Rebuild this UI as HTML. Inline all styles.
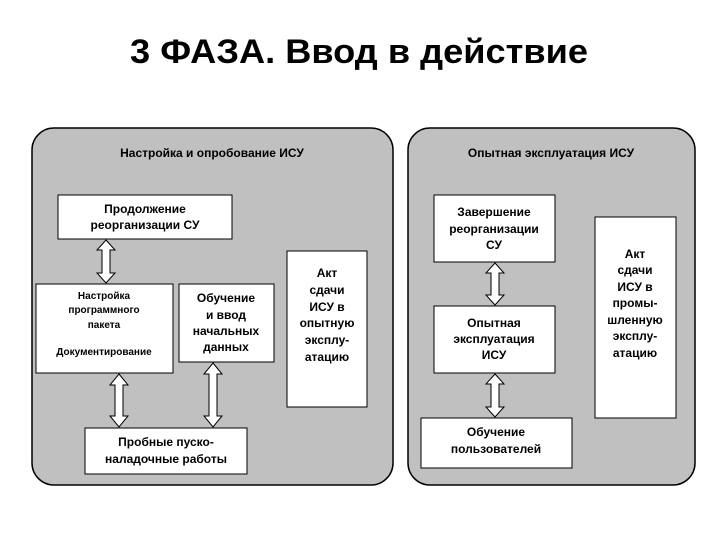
<!DOCTYPE html>
<html><head><meta charset="utf-8"><style>
body{margin:0;background:#fff;}
.t{font-family:"Liberation Sans",sans-serif;font-weight:bold;fill:#000;}
</style></head><body>
<svg width="720" height="540" xmlns="http://www.w3.org/2000/svg">
<text class="t" x="130" y="63" font-size="34" textLength="458" lengthAdjust="spacingAndGlyphs">3 ФАЗА. Ввод в действие</text>
<rect x="32" y="128" width="361" height="357" rx="22" fill="#c0c0c0" stroke="#000" stroke-width="1.5"/>
<rect x="408" y="128" width="287" height="357" rx="22" fill="#c0c0c0" stroke="#000" stroke-width="1.5"/>
<text class="t" x="212" y="157" font-size="12" text-anchor="middle">Настройка и опробование ИСУ</text>
<text class="t" x="551" y="157" font-size="12" text-anchor="middle">Опытная эксплуатация ИСУ</text>
<g fill="#fff" stroke="#000" stroke-width="1">
<rect x="58" y="195" width="174" height="44"/>
<rect x="36" y="284" width="137" height="89"/>
<rect x="179" y="284" width="95" height="78"/>
<rect x="287" y="251" width="80" height="156"/>
<rect x="85" y="428" width="162" height="46"/>
<rect x="434" y="195" width="121" height="67"/>
<rect x="434" y="306" width="121" height="67"/>
<rect x="421" y="418" width="151" height="50"/>
<rect x="595" y="217" width="81" height="201"/>
</g>
<g fill="#fff" stroke="#000" stroke-width="1">
<polygon points="106,240 115,250 110,250 110,273 115,273 106,283 97,273 102,273 102,250 97,250"/>
<polygon points="119,374 128,385 123,385 123,416 128,416 119,427 110,416 115,416 115,385 110,385"/>
<polygon points="213,363 222,374 217,374 217,416 222,416 213,427 204,416 209,416 209,374 204,374"/>
<polygon points="495,263 504,273 499,273 499,295 504,295 495,305 486,295 491,295 491,273 486,273"/>
<polygon points="495,374 504,384 499,384 499,407 504,407 495,417 486,407 491,407 491,384 486,384"/>
</g>
<g class="t" font-size="12" text-anchor="middle">
<text x="145" y="213">Продолжение</text><text x="145" y="229">реорганизации СУ</text>
<text x="226" y="302">Обучение</text><text x="226" y="319">и ввод</text><text x="226" y="335">начальных</text><text x="226" y="351">данных</text>
<text x="327" y="277">Акт</text><text x="327" y="294">сдачи</text><text x="327" y="311">ИСУ в</text><text x="327" y="327">опытную</text><text x="327" y="344">эксплу-</text><text x="327" y="361">атацию</text>
<text x="166" y="446">Пробные пуско-</text><text x="166" y="463">наладочные работы</text>
<text x="494" y="216">Завершение</text><text x="494" y="233">реорганизации</text><text x="494" y="249">СУ</text>
<text x="494" y="327">Опытная</text><text x="494" y="343">эксплуатация</text><text x="494" y="359">ИСУ</text>
<text x="496" y="436">Обучение</text><text x="496" y="453">пользователей</text>
<text x="635" y="258">Акт</text><text x="635" y="274">сдачи</text><text x="635" y="291">ИСУ в</text><text x="635" y="307">промы-</text><text x="635" y="324">шленную</text><text x="635" y="340">эксплу-</text><text x="635" y="357">атацию</text>
</g>
<g class="t" font-size="10" text-anchor="middle">
<text x="104" y="299">Настройка</text><text x="104" y="313">программного</text><text x="104" y="328">пакета</text><text x="104" y="355">Документирование</text>
</g>
</svg>
</body></html>
